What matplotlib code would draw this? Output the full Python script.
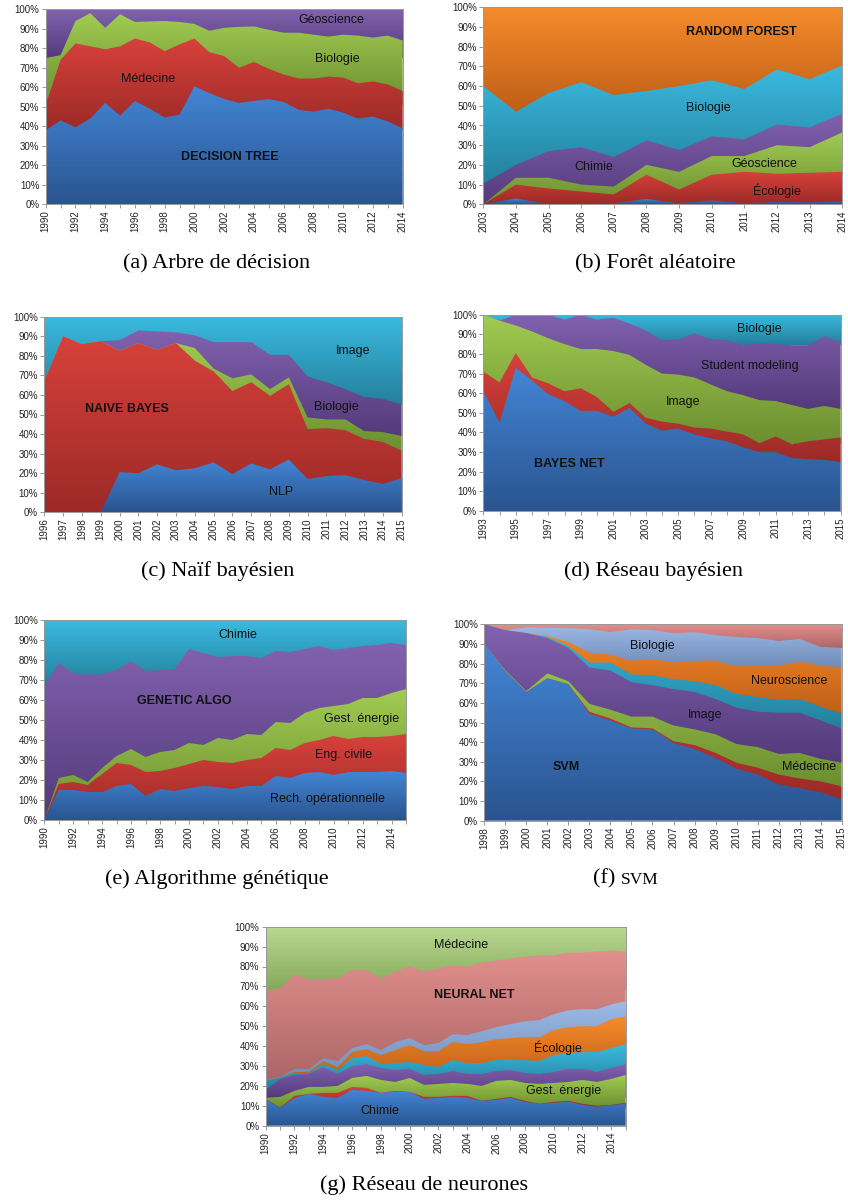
import numpy as np
import matplotlib
matplotlib.use('Agg')
import matplotlib.pyplot as plt
from matplotlib.colors import LinearSegmentedColormap
from matplotlib.patches import Polygon

plt.rcParams['font.family'] = ['Liberation Sans', 'DejaVu Sans']

# couleurs (haut du dégradé, bas du dégradé)
BLUE = ('#4386D6', '#2A548F')
RED = ('#D8413B', '#9C2A27')
GREEN = ('#A1CC52', '#6C8E30')
PURPLE = ('#8262AF', '#533A7B')
CYAN = ('#3BBAE0', '#23809C')
ORANGE = ('#F58B2B', '#BF5E17')
LBLUE = ('#9EBBE7', '#6E8BB7')
PINK = ('#E2908D', '#AC6666')
LGREEN = ('#B9D991', '#85A959')

# (a) Arbre de décision -- valeurs cumulées (%)
a_years = list(range(1990, 2015))
a_tree = [38, 43, 39.5, 44, 52, 45.5, 53, 49, 44.5, 46, 60.5, 57, 54, 52, 53, 54, 52.5, 48.5, 47.5, 49, 47, 44, 45, 42.5, 39]
a_medecine = [51, 74, 82.5, 81, 79.5, 81, 85, 83, 78.5, 82, 85, 78, 76, 70, 73, 69.5, 66.5, 64.5, 64.5, 65.5, 65, 62, 63, 61.5, 58]
a_biologie = [75, 76.5, 94, 98, 90.5, 97.5, 93.5, 93.8, 94, 93.5, 92.5, 89, 90.5, 91, 91.2, 89.5, 88, 88, 87, 86, 87, 86.5, 85.5, 86.5, 84]

# (b) Forêt aléatoire
b_years = list(range(2003, 2015))
b_autre = [0, 3, 0, 0, 0.5, 2.8, 0.5, 2, 0.5, 1.2, 1, 1.5]
b_ecologie = [0, 10, 8, 6.5, 5, 15, 7.5, 15, 16.5, 15.5, 16, 16.5]
b_geoscience = [0, 13.5, 13.5, 10, 9, 20, 16.5, 24.5, 24.5, 30, 29, 36.5]
b_chimie = [10.5, 20, 27, 29, 24, 32.5, 27.5, 34.5, 33, 40.5, 39, 46]
b_biologie = [60, 47, 56.5, 62, 55.5, 57.5, 60, 63, 58.5, 68.5, 63.5, 70.5]

# (c) Naïf bayésien
c_years = list(range(1996, 2016))
c_nlp = [0, 0, 0, 0, 20.5, 20, 24.5, 21.5, 22.5, 25.5, 19.5, 25, 22, 27, 17, 18.5, 19, 16.5, 14.5, 17.5]
c_naive = [67, 90, 86, 87.5, 82.5, 86.5, 83, 86.5, 77.5, 72, 62, 66.5, 59.5, 65.5, 42.5, 43, 42, 37.5, 36, 31.5]
c_autre = [67, 90, 86, 87.5, 82.5, 86.5, 83, 86.5, 84, 73.5, 68.5, 70.5, 63, 69, 48.5, 47.5, 47.5, 41.5, 41, 39]
c_biologie = [67, 90, 86, 87.5, 88, 93, 92.5, 92, 90.5, 87, 87, 87, 80.5, 80.5, 69.5, 66.5, 63, 59, 58, 55]

# (d) Réseau bayésien
d_years = list(range(1993, 2016))
d_bayes = [61, 45, 73, 66.5, 59.5, 56, 51, 51, 48, 52.5, 44.5, 41, 42, 39, 37, 35.5, 32.5, 30, 30, 27, 26.5, 26, 25]
d_autre = [71, 65.5, 80.5, 68, 65, 61, 62.5, 58, 50.5, 55, 47.5, 45.5, 44.5, 42.5, 42, 40.5, 39, 34.5, 38, 34, 35.5, 36.5, 37.5]
d_image = [100, 97, 94.5, 91.5, 88, 85, 82.5, 82.5, 81.5, 79.5, 74.5, 70, 69.5, 68, 64.5, 61, 59, 56.5, 56, 54, 52, 53.5, 52]
d_student = [100, 97, 100, 100, 100, 97.5, 100, 97.5, 98.5, 95.5, 92, 87, 87.5, 90.5, 87.5, 87, 84.5, 85.5, 85, 84.5, 84.5, 89, 86]

# (e) Algorithme génétique
e_years = list(range(1990, 2016))
e_rech = [0, 15, 15, 14, 14, 17, 18, 12, 15.5, 14.5, 16, 17, 16.5, 15.5, 17, 17, 22, 21, 23.5, 24, 22.5, 24, 24, 24, 24.5, 23.5]
e_civile = [0, 18, 19, 17.5, 23, 28.5, 27.5, 24, 24.5, 26, 28, 30, 29, 28.5, 30, 31, 36, 35, 38.5, 40, 42, 40.5, 41.5, 41.5, 42, 43]
e_energie = [0, 21, 22.5, 19, 26, 32, 35.5, 31.5, 34, 35, 38.5, 37.5, 41, 40, 43, 42.5, 49, 48.5, 53.5, 56, 57, 58, 61, 61, 63.5, 65.5]
e_genetic = [67, 78.5, 73.5, 72.5, 73, 75, 79.5, 74.5, 75, 75.5, 85.5, 83.5, 81.5, 82, 82, 81, 84.5, 84, 85.5, 87, 85, 86, 87, 87.5, 88.5, 87.5]

# (f) SVM
f_years = list(range(1998, 2016))
f_svm = [90, 76, 65.5, 72.5, 69.5, 54.5, 51, 47, 46.5, 39.5, 36.5, 32, 26.5, 23.5, 18.5, 16.5, 14.5, 11]
f_autre = [90, 76, 65.5, 72.5, 69.5, 55.5, 52, 47.5, 47, 40.5, 38.5, 34.5, 29.5, 27, 23.5, 21.5, 20, 17.5]
f_medecine = [90, 76.5, 66, 75, 71, 59.5, 56.5, 53, 53, 48.5, 46.5, 44, 39, 37.5, 34, 34.5, 31.5, 29.5]
f_image = [100, 97, 95.5, 93, 88, 78, 76.5, 70.5, 69, 67, 65.5, 62, 57.5, 55.5, 55, 55, 51, 47]
f_autre2 = [100, 97, 95.5, 93.5, 89, 80.5, 80.5, 74.5, 74, 72, 71, 69, 64.5, 63, 61.5, 62, 58, 54.5]
f_neuro = [100, 97, 95.5, 94, 91, 85.5, 84.5, 81.5, 82.5, 80.5, 81.5, 81.5, 78.5, 79, 79, 81, 79, 78]
f_biologie = [100, 97, 98.5, 98.2, 98, 97.5, 96, 97.5, 97, 95.5, 96, 94.5, 93.5, 93, 91.5, 92.5, 88.5, 88]

# (g) Réseau de neurones
g_years = list(range(1990, 2016))
g_chimie = [13.5, 9, 14, 16, 14.5, 14, 18, 17.5, 16.5, 17, 17, 13.5, 14, 14.5, 14, 12.5, 13, 14, 12, 11, 11.5, 12, 10.5, 9.5, 10.5, 11]
g_autre = [13.5, 9, 15, 16, 16.5, 16.5, 19.5, 19, 16.5, 17.5, 17, 14.5, 14.5, 15, 15, 12.5, 13.5, 14.5, 12.5, 11, 12, 12.5, 11, 10, 10.5, 11.5]
g_energie = [14, 14.5, 17.5, 19.5, 19.5, 20, 24, 25, 23, 22, 24, 20.5, 21, 21.5, 21, 20, 22.5, 23, 21.5, 21, 21.5, 22, 23, 22, 23.5, 25.5]
g_autre2 = [18, 23.5, 25.5, 26, 29.5, 26, 30, 31, 29, 28, 28.5, 25.5, 26, 27.5, 26, 26, 27.5, 28, 26.5, 26, 27, 28.5, 28.5, 27, 29, 31]
g_autre3 = [22.5, 24, 26.5, 26.5, 31, 28, 34, 35, 31, 31.5, 32, 30.5, 29.5, 33, 31.5, 31.5, 33, 33.5, 33, 32.5, 35.5, 36.5, 37, 37, 39, 41]
g_ecologie = [22.5, 24, 27, 27, 32.5, 29.5, 37, 38.5, 35.5, 38, 40.5, 37.5, 37.5, 42, 41, 42, 43.5, 44, 44.5, 44.5, 48, 49.5, 50, 50, 53.5, 55]
g_autre4 = [23, 24.5, 28.5, 28.5, 34, 32.5, 39, 41, 38, 42, 44, 40.5, 41.5, 46, 45.5, 47.5, 49.5, 51, 52.5, 53, 56, 58, 58.5, 58.5, 61, 62.5]
g_neural = [68, 69, 76, 73.5, 73.5, 74, 78.5, 78, 74, 77.5, 80, 77.5, 79, 80.5, 80, 82, 83, 84, 85, 85.5, 85.5, 87, 87, 87.5, 88, 87.5]

W, H = 848, 1204
fig = plt.figure(figsize=(W / 100, H / 100), dpi=100)


def make_ax(l, r, t, b):
    return fig.add_axes([l / W, 1 - b / H, (r - l) / W, (b - t) / H])


def draw_stack(ax, years, tops, colors, label_step=1, label_start=None):
    x = np.asarray(years, float)
    n = len(x)
    tops = [np.asarray(t, float) for t in tops] + [np.full(n, 100.0)]
    bottoms = [np.zeros(n)] + tops[:-1]
    # de haut en bas : chaque couche recouvre la précédente (pas de jointure blanche)
    for k in range(len(tops) - 1, -1, -1):
        top, lo = tops[k], bottoms[k]
        ymin, ymax = lo.min(), top.max()
        if ymax - ymin < 0.2:
            continue
        verts = list(zip(x, top)) + [(x[-1], 0), (x[0], 0)]
        poly = Polygon(verts, closed=True, transform=ax.transData)
        cmap = LinearSegmentedColormap.from_list('g%d' % k, [colors[k][1], colors[k][0]])
        grad = np.linspace(1, 0, 256).reshape(-1, 1)
        im = ax.imshow(grad, cmap=cmap, vmin=0, vmax=1, origin='upper', aspect='auto',
                       extent=[x[0], x[-1], ymin, ymax], interpolation='bilinear', zorder=1)
        im.set_clip_path(poly)
    ax.set_xlim(x[0], x[-1])
    ax.set_ylim(0, 100)
    ax.set_yticks(range(0, 101, 10))
    ax.set_yticklabels(['%d%%' % v for v in range(0, 101, 10)], fontsize=7, color='#222222')
    ax.set_xticks(years)
    if label_start is None:
        label_start = years[0]
    ax.set_xticklabels([str(y) if (y - label_start) % label_step == 0 and y >= label_start else ''
                        for y in years], rotation=90, fontsize=7, color='#222222')
    ax.tick_params(length=3, width=0.6, color='#888888', pad=1.5)
    for s in ax.spines.values():
        s.set_color('#999999')
        s.set_linewidth(0.7)


def lab(ax, x, y, s, bold=False):
    ax.text(x, y, s, ha='center', va='center', fontsize=9, color='#111111',
            fontweight='bold' if bold else 'normal', zorder=5)


def caption(x, y, s):
    fig.text(x / W, 1 - y / H, s, ha='center', va='center', fontsize=16,
             family=['Liberation Serif', 'DejaVu Serif'])


# (a)
ax = make_ax(45.7, 402.7, 9.3, 204.3)
draw_stack(ax, a_years, [a_tree, a_medecine, a_biologie], [BLUE, RED, GREEN, PURPLE], label_step=2)
lab(ax, 2009.2, 94.5, 'Géoscience')
lab(ax, 2009.6, 74.4, 'Biologie')
lab(ax, 1996.9, 64.3, 'Médecine')
lab(ax, 2002.4, 24.1, 'DECISION TREE', bold=True)
caption(217, 264, '(a) Arbre de décision')

# (b)
ax = make_ax(483.3, 842.3, 7.3, 204.3)
draw_stack(ax, b_years, [b_autre, b_ecologie, b_geoscience, b_chimie, b_biologie],
           [BLUE, RED, GREEN, PURPLE, CYAN, ORANGE])
lab(ax, 2010.9, 87.3, 'RANDOM FOREST', bold=True)
lab(ax, 2009.9, 49, 'Biologie')
lab(ax, 2006.4, 19.1, 'Chimie')
lab(ax, 2011.6, 20.3, 'Géoscience')
lab(ax, 2012.0, 6.9, 'Écologie')
caption(655, 264, '(b) Forêt aléatoire')

# (c)
ax = make_ax(44.3, 401.7, 316.7, 512.3)
draw_stack(ax, c_years, [c_nlp, c_naive, c_autre, c_biologie], [BLUE, RED, GREEN, PURPLE, CYAN])
lab(ax, 2012.4, 82.5, 'Image')
lab(ax, 2011.5, 53.8, 'Biologie')
lab(ax, 2000.4, 52.6, 'NAIVE BAYES', bold=True)
lab(ax, 2008.6, 10.6, 'NLP')
caption(218, 571, '(c) Naïf bayésien')

# (d)
ax = make_ax(483.3, 840.7, 314.7, 511)
draw_stack(ax, d_years, [d_bayes, d_autre, d_image, d_student], [BLUE, RED, GREEN, PURPLE, CYAN],
           label_step=2)
lab(ax, 2010.0, 92.5, 'Biologie')
lab(ax, 2009.4, 74, 'Student modeling')
lab(ax, 2005.3, 55.7, 'Image')
lab(ax, 1998.3, 23.9, 'BAYES NET', bold=True)
caption(653, 571, '(d) Réseau bayésien')

# (e)
ax = make_ax(44.3, 406, 620, 820)
draw_stack(ax, e_years, [e_rech, e_civile, e_energie, e_genetic], [BLUE, RED, GREEN, PURPLE, CYAN],
           label_step=2)
lab(ax, 2003.4, 92.5, 'Chimie')
lab(ax, 1999.7, 59.5, 'GENETIC ALGO', bold=True)
lab(ax, 2011.9, 50.5, 'Gest. énergie')
lab(ax, 2010.7, 32.3, 'Eng. civile')
lab(ax, 2009.6, 10.5, 'Rech. opérationnelle')
caption(217, 879, '(e) Algorithme génétique')

# (f)
ax = make_ax(484.3, 841.7, 624.3, 820.7)
draw_stack(ax, f_years, [f_svm, f_autre, f_medecine, f_image, f_autre2, f_neuro, f_biologie],
           [BLUE, RED, GREEN, PURPLE, CYAN, ORANGE, LBLUE, PINK])
lab(ax, 2006.0, 89.1, 'Biologie')
lab(ax, 2012.5, 71, 'Neuroscience')
lab(ax, 2008.5, 54, 'Image')
lab(ax, 2001.9, 27.3, 'SVM', bold=True)
lab(ax, 2013.45, 27.3, 'Médecine')
fig.text(621 / W, 1 - 879 / H, '(f) ', ha='right', va='center', fontsize=16,
         family=['Liberation Serif', 'DejaVu Serif'])
fig.text(621 / W, 1 - 880.5 / H, 'SVM', ha='left', va='center', fontsize=12.5,
         family=['Liberation Serif', 'DejaVu Serif'])

# (g)
ax = make_ax(265.7, 625.7, 926.7, 1125.7)
draw_stack(ax, g_years, [g_chimie, g_autre, g_energie, g_autre2, g_autre3, g_ecologie, g_autre4, g_neural],
           [BLUE, RED, GREEN, PURPLE, CYAN, ORANGE, LBLUE, PINK, LGREEN], label_step=2)
lab(ax, 2003.6, 90.8, 'Médecine')
lab(ax, 2004.5, 65.7, 'NEURAL NET', bold=True)
lab(ax, 2010.3, 39.4, 'Écologie')
lab(ax, 2010.7, 17.3, 'Gest. énergie')
lab(ax, 1997.9, 7.5, 'Chimie')
caption(424, 1185, '(g) Réseau de neurones')

fig.savefig('out.png', dpi=100)
